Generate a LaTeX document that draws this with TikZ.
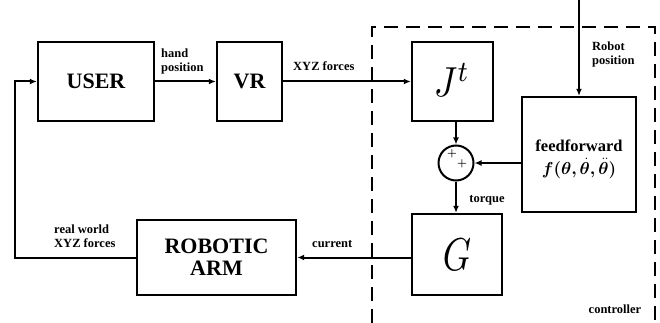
\documentclass[tikz,border=0pt]{standalone}
\usepackage{fontspec}
\setmainfont{Liberation Serif}
\usepackage{bm}
\usepackage{graphicx}
\usetikzlibrary{arrows.meta,calc}
\begin{document}
\begin{tikzpicture}[x=1pt,y=-1pt,
  blk/.style={draw,line width=2.4pt,rectangle,inner sep=0pt,align=center,font=\bfseries\fontsize{22}{24}\selectfont},
  lbl/.style={font=\bfseries\fontsize{12.5}{14}\selectfont,align=left,inner sep=0pt},
  pls/.style={font=\fontsize{11}{11}\selectfont,inner sep=0pt},
  arr/.style={line width=2pt,-{Latex[length=7pt,width=6pt]}},
  ctrl/.style={line width=2.6pt,dash pattern=on 14pt off 8pt}]
\useasboundingbox (0,0) rectangle (660,323);
% controller boundary
\draw[ctrl] (372,323) -- (372,27) -- (655,27) -- (655,323);
% blocks
\node[blk,minimum width=116pt,minimum height=79pt] (user) at (96,81.5) {USER};
\node[blk,minimum width=65pt,minimum height=79pt] (vr) at (249.5,81.5) {VR};
\node[blk,minimum width=81pt,minimum height=79pt] (jt) at (452.5,81.5) {};
\node[font=\fontsize{10}{10}\selectfont,inner sep=0pt] (jtt) at (452,80) {\scalebox{3.6}[4.2]{$J^t$}};
\node[blk,minimum width=114pt,minimum height=115pt] (ff) at (579,154.5) {};
\node[font=\bfseries\fontsize{16.5}{18}\selectfont,inner sep=0pt] (fft) at (579,146) {feedforward};
\node[font=\fontsize{16.5}{18}\selectfont,inner sep=0pt] (ffm) at (579,168.5) {$\bm{f(\theta,\dot{\theta},\ddot{\theta})}$};
\node[draw,circle,line width=2pt,minimum size=35pt,inner sep=0pt] (sum) at (456,163) {};
\node[pls] (p1) at (452,153.5) {$\bm{+}$};
\node[pls] (p2) at (462,164) {$\bm{+}$};
\node[blk,minimum width=90pt,minimum height=81pt] (g) at (457,254.5) {};
\node[font=\fontsize{10}{10}\selectfont,inner sep=0pt] (gt) at (457,255) {\scalebox{3.6}[4.6]{$G$}};
\node[blk,minimum width=159pt,minimum height=75pt] (arm) at (216.5,257.5) {ROBOTIC\\[-2pt]ARM};
% coordinates
\coordinate (left) at (15,0);
\coordinate (top) at (579,0);
% connectors
\draw[arr] (user.east) -- (vr.west);
\draw[arr] (vr.east) -- (jt.west);
\draw[arr] (top) -- (ff.north);
\draw[arr] (sum.north |- jt.south) -- (sum.north);
\draw[arr] (ff.west |- sum.east) -- (sum.east);
\draw[arr] (sum.south) -- (sum.south |- g.north);
\draw[arr] (g.west |- arm.east) -- (arm.east);
\draw[arr] (arm.west) -- (arm.west -| left) -- (left |- user.west) -- (user.west);
% labels
\node[lbl,anchor=south west] (lhand) at (161,74) {hand\\position};
\node[lbl,anchor=south west] (lxyz) at (293,71) {XYZ forces};
\node[lbl,anchor=north west] (lrob) at (592,42) {Robot\\position};
\node[lbl] (ltor) at (487,200) {torque};
\node[lbl,anchor=south west] (lcur) at (312,247.5) {current};
\node[lbl,anchor=south west] (lreal) at (54,247.5) {real world\\XYZ forces};
\node[lbl] (lctrl) at (615,309) {controller};
\end{tikzpicture}
\end{document}
